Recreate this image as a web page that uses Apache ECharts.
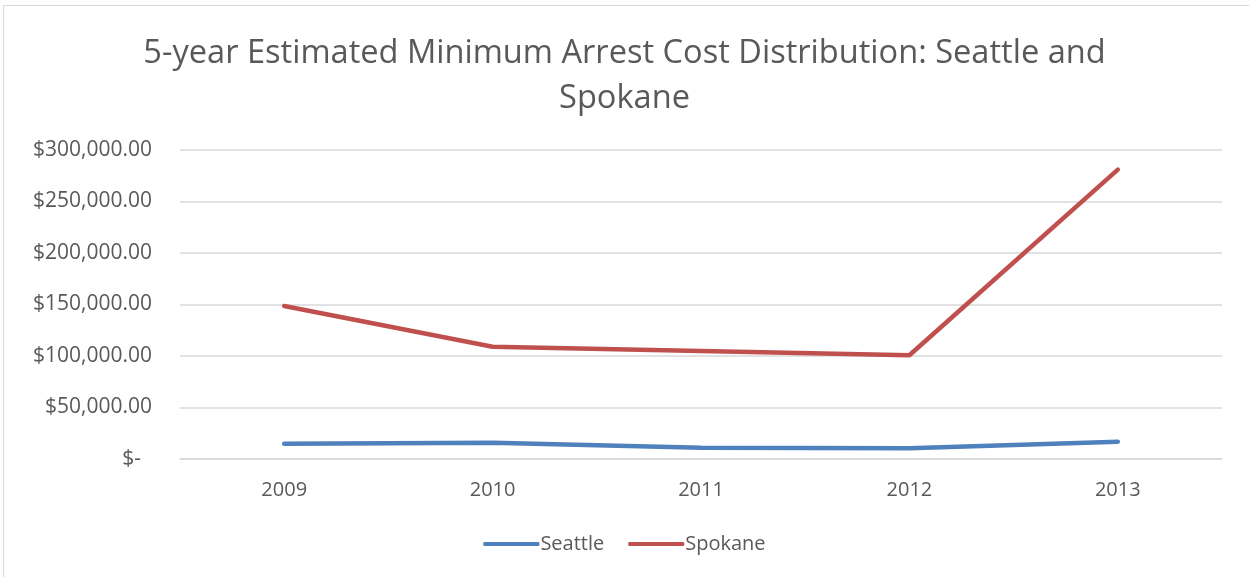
<!DOCTYPE html>
<html>
<head>
<meta charset="utf-8">
<script src="https://cdn.jsdelivr.net/npm/echarts@6/dist/echarts.min.js"></script>
<style>
    html, body { margin: 0; padding: 0; background: #fff; }
    #frame { position: absolute; left: 3px; top: 5px; width: 1250px; height: 580px; border: 1px solid #d9d9d9; box-sizing: border-box; }
    #chart { position: absolute; left: 0; top: 0; width: 1249px; height: 577px; }
</style>
</head>
<body>
<div id="frame"></div>
<div id="chart"></div>
<script>
var years = ['2009', '2010', '2011', '2012', '2013'];
var seattle = [14900, 15800, 11000, 10400, 16800];
var spokane = [148500, 109000, 104800, 100700, 281000];
var yTicks = [0, 50000, 100000, 150000, 200000, 250000, 300000];

function fmtMoney(v) {
    if (v === 0) {
        return '$-  ';
    }
    var s = v.toFixed(2).replace(/\B(?=(\d{3})+(?!\d))/g, ',');
    return '$' + s;
}

var chart = echarts.init(document.getElementById('chart'));
var txt = '#595959';
var fam = '"Open Sans", sans-serif';

var opt = {
    animation: false,
    title: {
        text: '5-year Estimated Minimum Arrest Cost Distribution: Seattle and\nSpokane',
        left: 'center',
        top: 26,
        textStyle: {
            fontFamily: fam,
            fontWeight: 'normal',
            fontSize: 32.6,
            lineHeight: 45,
            color: txt
        }
    },
    legend: {
        bottom: 18,
        left: 'center',
        itemWidth: 56,
        itemHeight: 4,
        itemGap: 24,
        icon: 'roundRect',
        textStyle: { fontFamily: fam, fontSize: 20, color: txt, padding: [0, 0, 0, -4] },
        data: ['Seattle', 'Spokane']
    },
    grid: {
        left: 180,
        right: 27,
        top: 150,
        bottom: 118
    },
    xAxis: {
        type: 'category',
        data: years,
        boundaryGap: true,
        axisLine: { lineStyle: { color: '#d9d9d9', width: 1.5 } },
        axisTick: { show: false },
        axisLabel: { fontFamily: fam, fontSize: 20, color: txt, margin: 21 }
    },
    yAxis: {
        type: 'value',
        min: yTicks[0],
        max: yTicks[yTicks.length - 1],
        interval: 50000,
        axisLine: { show: false },
        axisTick: { show: false },
        splitLine: { lineStyle: { color: '#d9d9d9', width: 1.5 } },
        axisLabel: {
            fontFamily: fam, fontSize: 21, color: txt, margin: 28,
            formatter: fmtMoney
        }
    },
    series: [{
        name: 'Seattle',
        type: 'line',
        data: seattle,
        symbol: 'none',
        lineStyle: { width: 4.5, color: '#4f81bd', cap: 'round' },
        itemStyle: { color: '#4f81bd' }
    }, {
        name: 'Spokane',
        type: 'line',
        data: spokane,
        symbol: 'none',
        lineStyle: { width: 4.5, color: '#c0504d', cap: 'round' },
        itemStyle: { color: '#c0504d' }
    }]
};
chart.setOption(opt);
</script>
</body>
</html>
